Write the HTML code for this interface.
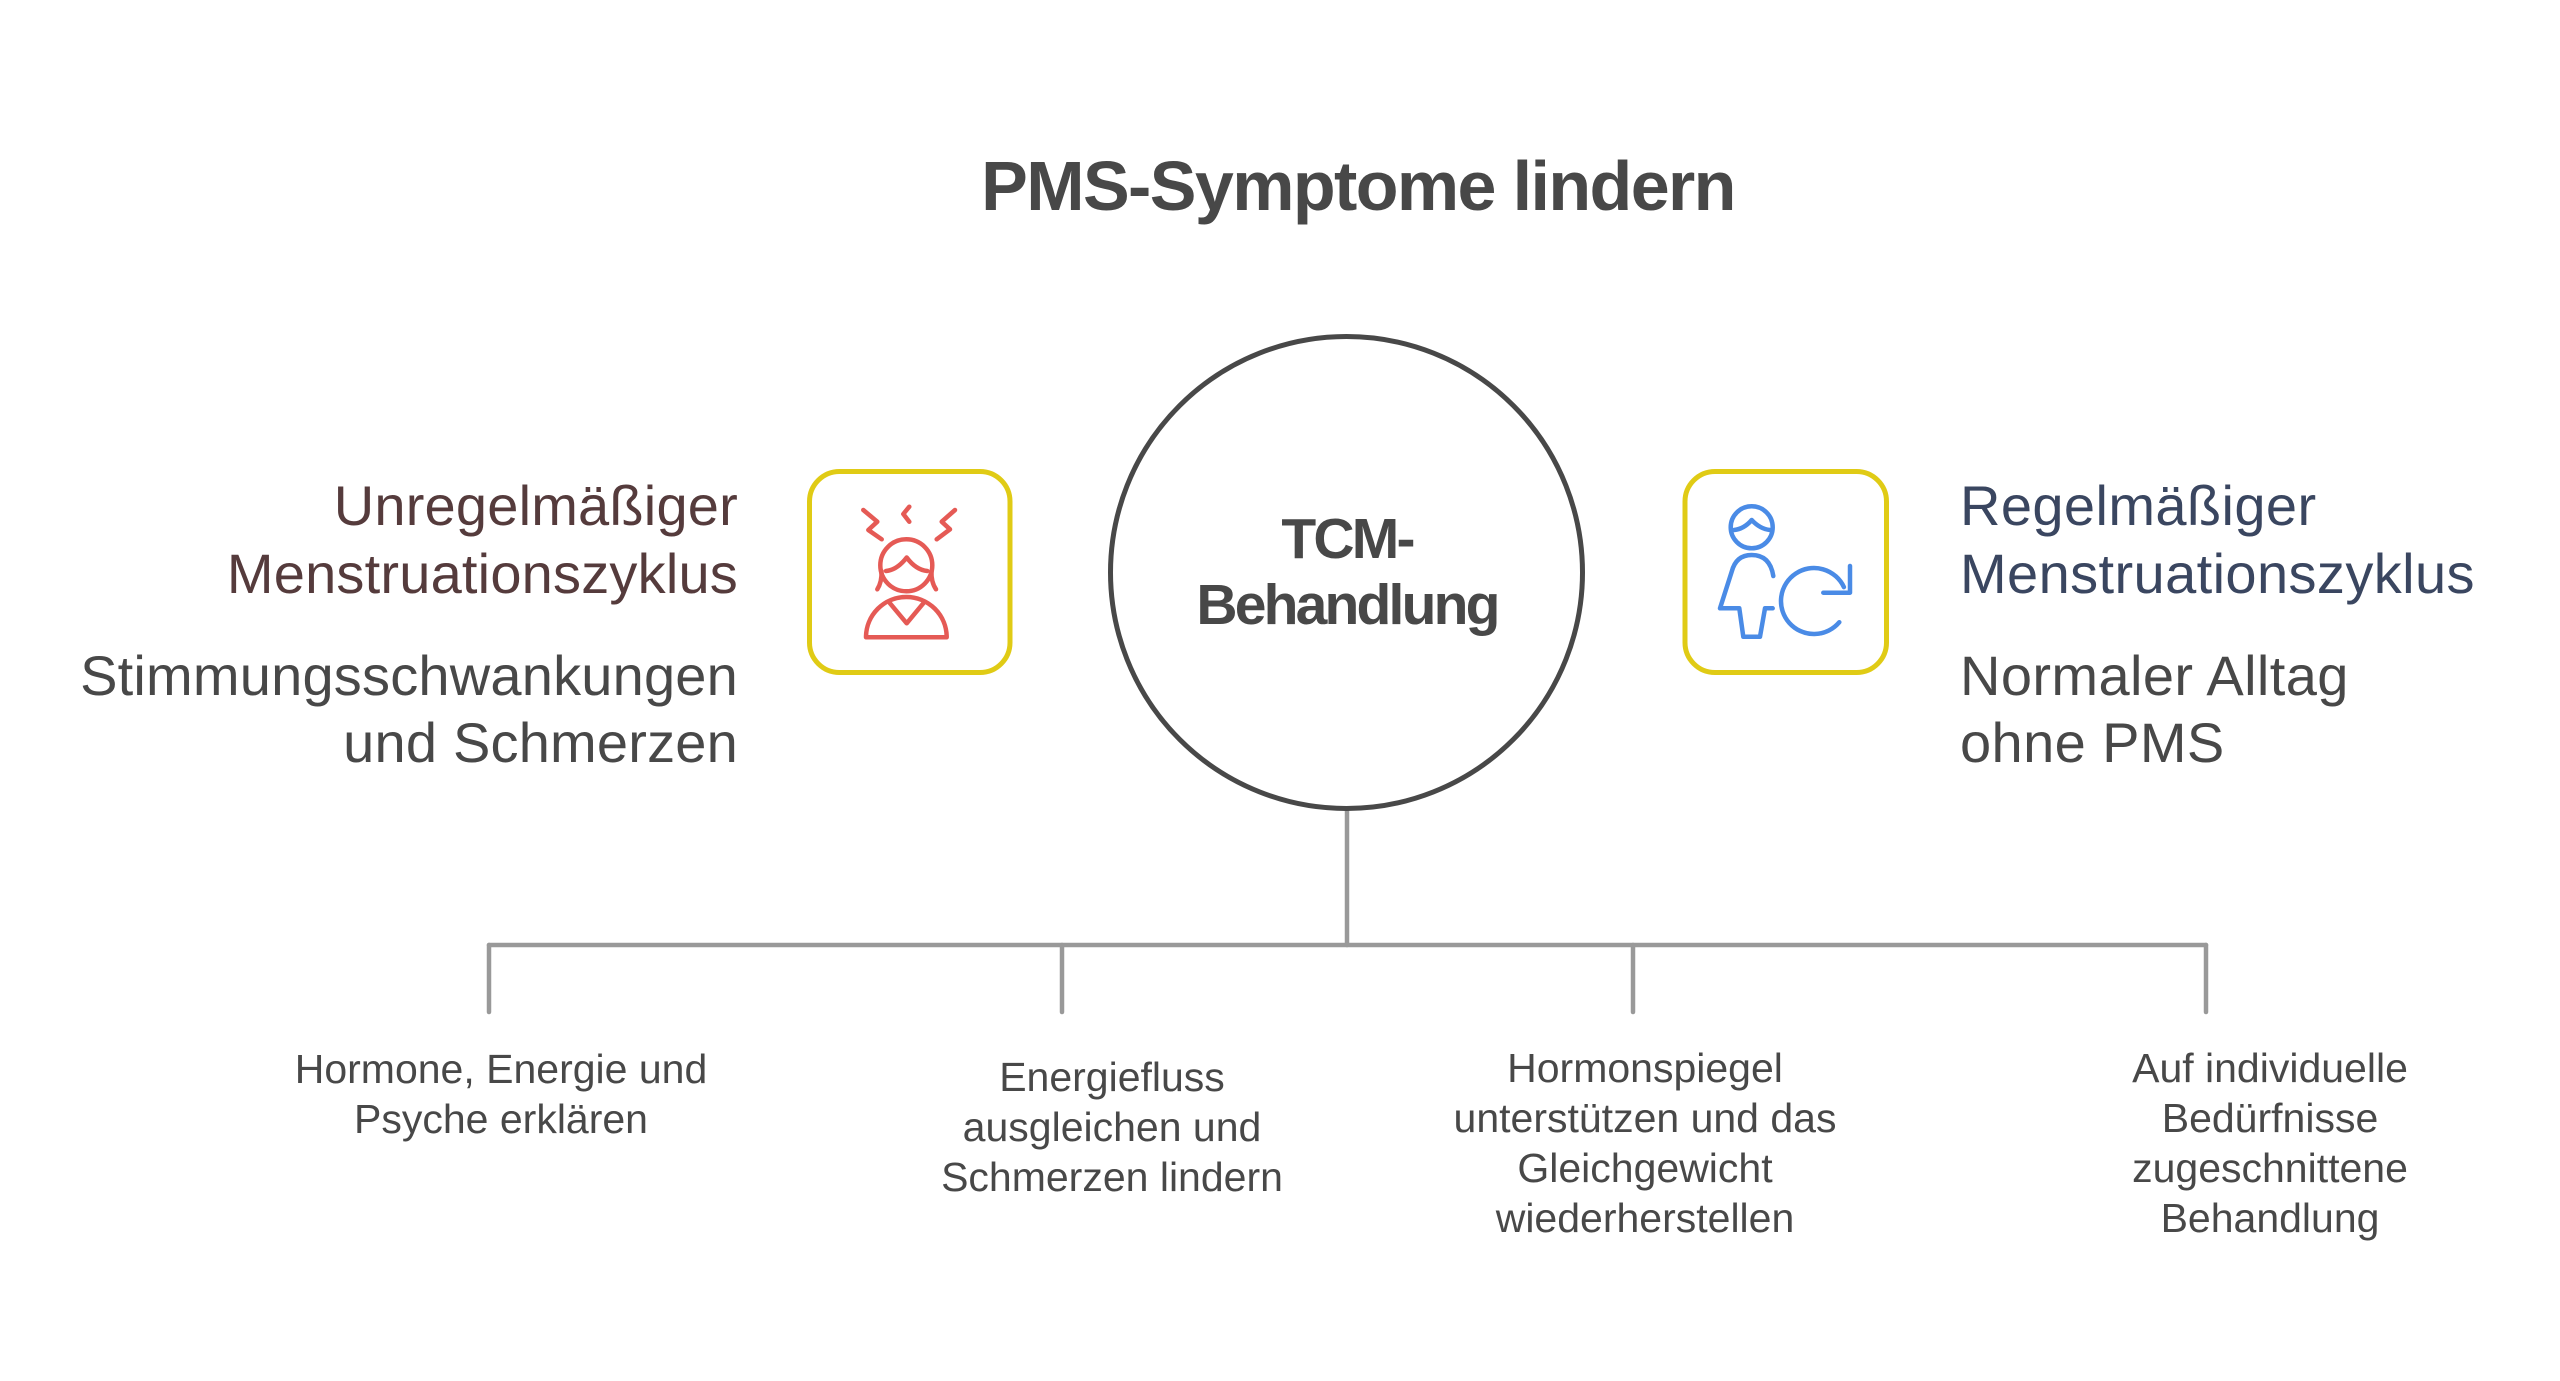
<!DOCTYPE html>
<html>
<head>
<meta charset="utf-8">
<style>
  html, body { margin: 0; padding: 0; background: #ffffff; }
  body { width: 2560px; height: 1381px; overflow: hidden; }
  svg { display: block; }
  text { font-family: "Liberation Sans", Arial, sans-serif; }
</style>
</head>
<body>
<svg width="2560" height="1381" viewBox="0 0 2560 1381" xmlns="http://www.w3.org/2000/svg">
  <rect x="0" y="0" width="2560" height="1381" fill="#ffffff"/>

  <!-- Title -->
  <text x="1358" y="210" text-anchor="middle" font-size="70" font-weight="bold" fill="#484848" letter-spacing="-1.6">PMS-Symptome lindern</text>

  <!-- Connectors -->
  <g stroke="#999999" stroke-width="4.5" fill="none" stroke-linecap="round">
    <line x1="1347" y1="808" x2="1347" y2="945"/>
    <line x1="489" y1="945" x2="2206" y2="945"/>
    <line x1="489" y1="945" x2="489" y2="1012"/>
    <line x1="1062" y1="945" x2="1062" y2="1012"/>
    <line x1="1633" y1="945" x2="1633" y2="1012"/>
    <line x1="2206" y1="945" x2="2206" y2="1012"/>
  </g>

  <!-- Central circle -->
  <circle cx="1346.5" cy="572.5" r="236" fill="#ffffff" stroke="#484848" stroke-width="5"/>
  <text x="1347" y="558" text-anchor="middle" font-size="57" font-weight="bold" fill="#484848" letter-spacing="-2.8">TCM-</text>
  <text x="1347" y="624" text-anchor="middle" font-size="57" font-weight="bold" fill="#484848" letter-spacing="-2.8">Behandlung</text>

  <!-- Left icon box -->
  <rect x="809.5" y="471.5" width="200.5" height="201" rx="30" ry="30" fill="#ffffff" stroke="#E0CB15" stroke-width="5"/>
  <g stroke="#E55A55" stroke-width="4.5" fill="none" stroke-linecap="round" stroke-linejoin="round">
    <polyline points="863.3,510 877.3,521.7 868.3,530 881.7,539.3"/>
    <polyline points="909.3,506.7 903.3,514 909.3,521.7"/>
    <polyline points="955,510 941.7,521.7 950,529.3 936.7,539.3"/>
    <circle cx="906.3" cy="565.3" r="26"/>
    <path d="M886,571 Q897,570 906.7,557.5 Q916,570 927.3,571"/>
    <path d="M881.5,571 Q882,582 877.3,589.3"/>
    <path d="M931.5,571 Q931,582 936,589.3"/>
    <path d="M866,637.3 A40.3,40.3 0 0 1 946.7,637.3 Z"/>
    <polyline points="890,603.3 906.7,623.3 923.3,603.3"/>
  </g>

  <!-- Right icon box -->
  <rect x="1685" y="471.5" width="201.5" height="201" rx="30" ry="30" fill="#ffffff" stroke="#E0CB15" stroke-width="5"/>
  <g stroke="#4A8BE6" stroke-width="4.5" fill="none" stroke-linecap="round" stroke-linejoin="round">
    <circle cx="1751.7" cy="527.3" r="21"/>
    <path d="M1734,530 Q1744,529 1751.7,520 Q1760,529 1770,530"/>
    <path d="M1773.3,576 Q1770,555 1751.7,555 Q1736,555 1731.7,571.7 L1720,608.3 L1739.3,608.3 L1743.3,636.7 L1760,636.7 L1765,608.3 L1772.7,608.3"/>
    <path d="M1843.9,587.1 A33,33 0 1 0 1839.3,622.2"/>
    <polyline points="1850,566 1850,592.7 1823.3,592.7"/>
  </g>

  <!-- Left side texts -->
  <g text-anchor="end" font-size="56" letter-spacing="0.2">
    <text x="738" y="525" fill="#553B3C">Unregelmäßiger</text>
    <text x="738" y="593" fill="#553B3C">Menstruationszyklus</text>
    <text x="738" y="695" fill="#484848">Stimmungsschwankungen</text>
    <text x="738" y="762" fill="#484848">und Schmerzen</text>
  </g>

  <!-- Right side texts -->
  <g text-anchor="start" font-size="56" letter-spacing="0.4">
    <text x="1960" y="525" fill="#3A4660">Regelmäßiger</text>
    <text x="1960" y="593" fill="#3A4660">Menstruationszyklus</text>
    <text x="1960" y="695" fill="#484848">Normaler Alltag</text>
    <text x="1960" y="762" fill="#484848">ohne PMS</text>
  </g>

  <!-- Bottom labels -->
  <g text-anchor="middle" font-size="41" fill="#484848">
    <text x="501" y="1083">Hormone, Energie und</text>
    <text x="501" y="1133">Psyche erklären</text>

    <text x="1112" y="1091">Energiefluss</text>
    <text x="1112" y="1141">ausgleichen und</text>
    <text x="1112" y="1191">Schmerzen lindern</text>

    <text x="1645" y="1082">Hormonspiegel</text>
    <text x="1645" y="1132">unterstützen und das</text>
    <text x="1645" y="1182">Gleichgewicht</text>
    <text x="1645" y="1232">wiederherstellen</text>

    <text x="2270" y="1082">Auf individuelle</text>
    <text x="2270" y="1132">Bedürfnisse</text>
    <text x="2270" y="1182">zugeschnittene</text>
    <text x="2270" y="1232">Behandlung</text>
  </g>
</svg>
</body>
</html>
